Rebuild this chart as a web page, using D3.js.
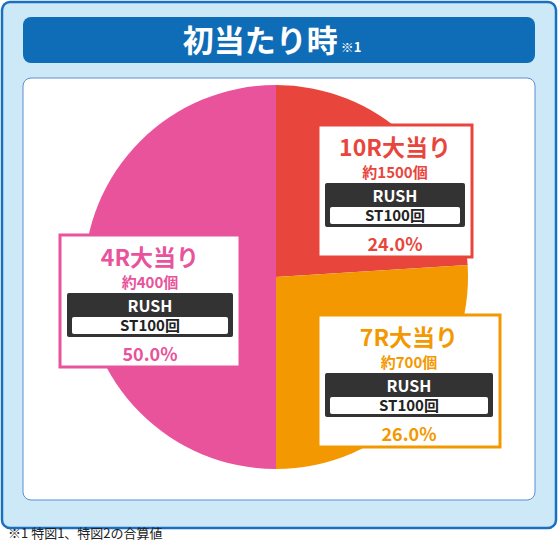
<!DOCTYPE html><html><head><meta charset="utf-8"><script src="https://cdn.jsdelivr.net/npm/d3@7"></script>
<style>body{margin:0;background:#fff}text{font-family:"Noto Sans CJK JP","Noto Sans",sans-serif;font-weight:bold}</style></head><body>
<svg id="c" width="560" height="543"></svg>
<script>
const titles=["10R大当り","7R大当り","4R大当り"];
const counts=["約1500個","約700個","約400個"];
const values=[24.0,26.0,50.0];
const rush=["RUSH","RUSH","RUSH"];
const st=["ST100回","ST100回","ST100回"];
const colors=["#e8463d","#f39800","#e8539b"];
const boxes=[[318,125,154],[318,315,182],[60,235,180]];
const svg=d3.select("#c");
svg.append("rect").attr("x",2).attr("y",2).attr("width",554).attr("height",526).attr("rx",8).attr("fill","#cde9f8").attr("stroke","#1a70c0").attr("stroke-width",2.5);
svg.append("rect").attr("x",23).attr("y",17).attr("width",512).attr("height",46).attr("rx",8).attr("fill","#0f6cb6");
const t=svg.append("text").attr("x",272).attr("y",52).attr("text-anchor","middle").attr("fill","#fff").attr("font-size",31);
t.append("tspan").text("初当たり時");
t.append("tspan").attr("font-size",13).attr("dx",3).text("※1");
svg.append("rect").attr("x",23).attr("y",78).attr("width",512).attr("height",422).attr("rx",8).attr("fill","#fff").attr("stroke","#5b8fd2").attr("stroke-width",1);
const pie=d3.pie().sort(null).value(d=>d);
const arc=d3.arc().innerRadius(0).outerRadius(192);
svg.append("g").attr("transform","translate(276,277)").selectAll("path").data(pie(values)).join("path").attr("d",arc).attr("fill",(d,i)=>colors[i]);
boxes.forEach(([x,y,w],i)=>{
 const g=svg.append("g").attr("transform",`translate(${x},${y})`);
 const c=colors[i];
 g.append("rect").attr("width",w).attr("height",132).attr("fill","#fff").attr("stroke",c).attr("stroke-width",3);
 const cx=w/2;
 g.append("text").attr("x",cx).attr("y",31).attr("text-anchor","middle").attr("fill",c).attr("font-size",23).text(titles[i]);
 g.append("text").attr("x",cx).attr("y",53).attr("text-anchor","middle").attr("fill",c).attr("font-size",15).text(counts[i]);
 g.append("rect").attr("x",7).attr("y",58).attr("width",w-14).attr("height",44).attr("rx",2).attr("fill","#333");
 g.append("text").attr("x",cx).attr("y",77).attr("text-anchor","middle").attr("fill","#fff").attr("font-size",16).text(rush[i]);
 g.append("rect").attr("x",12).attr("y",82).attr("width",w-24).attr("height",17).attr("rx",2).attr("fill","#fff");
 g.append("text").attr("x",cx).attr("y",96).attr("text-anchor","middle").attr("fill","#222").attr("font-size",15).text(st[i]);
 g.append("text").attr("x",cx).attr("y",126).attr("text-anchor","middle").attr("fill",c).attr("font-size",18).text(values[i].toFixed(1)+"%");
});
svg.append("text").attr("x",8).attr("y",538).attr("fill","#222").attr("font-size",13).style("font-weight","normal").text("※1 特図1、特図2の合算値");
</script></body></html>
